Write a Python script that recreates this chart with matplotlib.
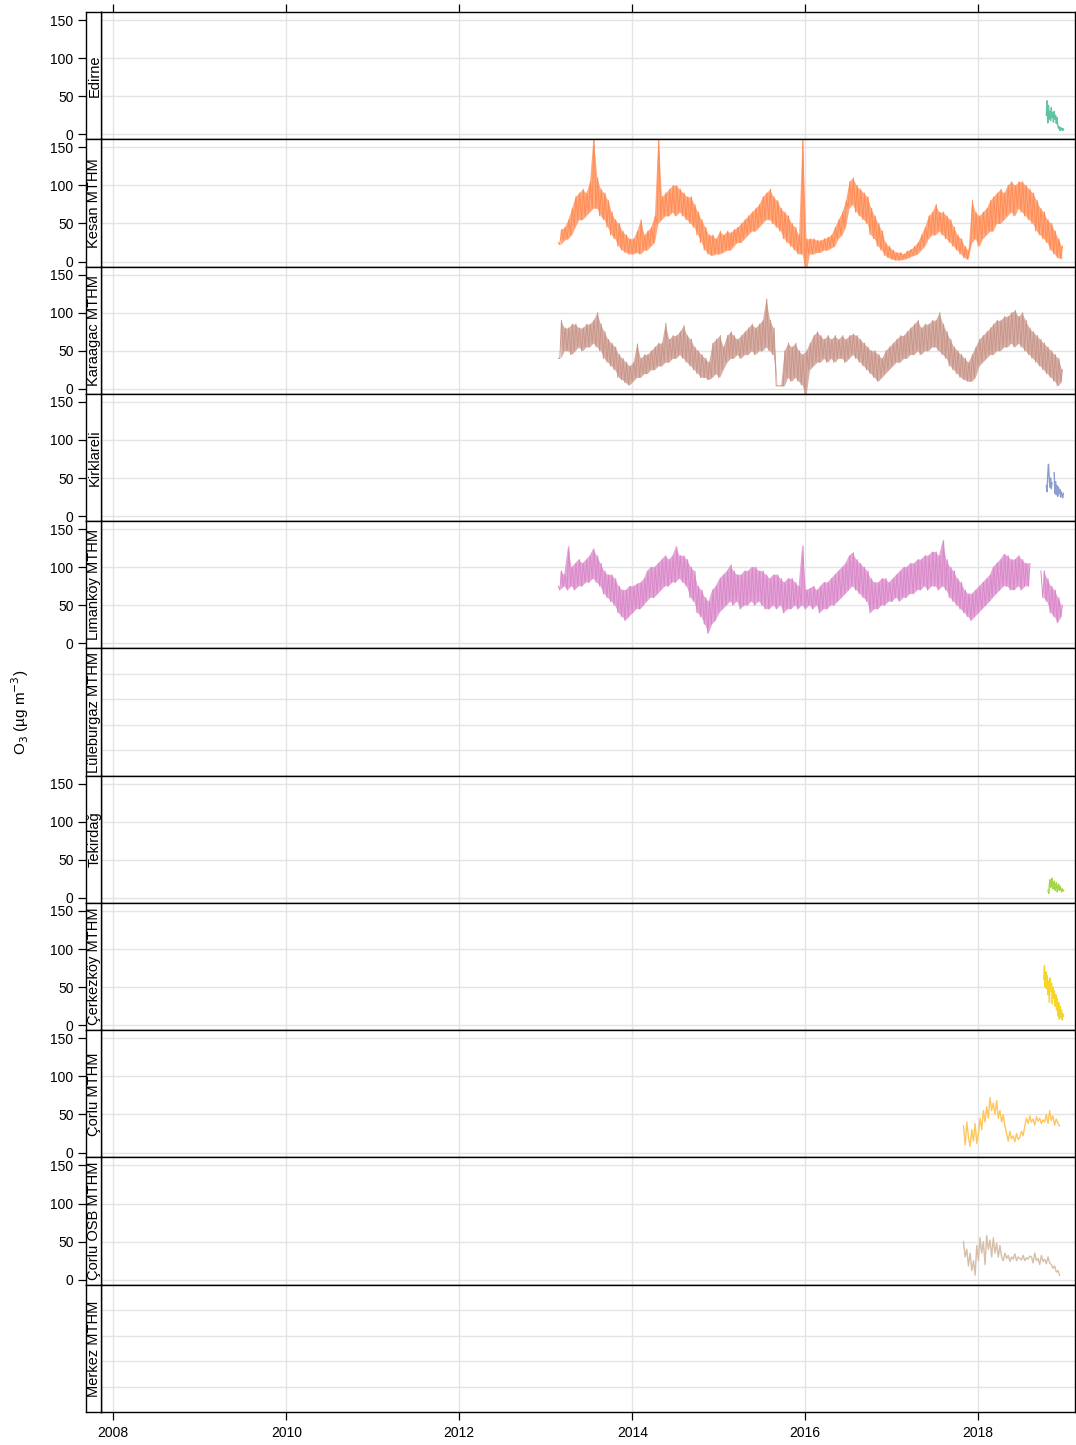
import numpy as np
import pandas as pd
import matplotlib
matplotlib.use("Agg")
import matplotlib.pyplot as plt
from datetime import datetime

plt.rcParams['font.family'] = ['Liberation Sans', 'DejaVu Sans']
nan = np.nan

# ---------------- data ----------------
sites = ["Edirne", "Kesan MTHM", "Karaagac MTHM", "Kirklareli", "Limanköy MTHM",
         "Lüleburgaz MTHM", "Tekirdağ", "Çerkezköy MTHM", "Çorlu MTHM",
         "Çorlu OSB MTHM", "Merkez MTHM"]
site_colors = ["#5FC4A0", "#FF8C55", "#C9968A", "#8C9DD0", "#DA88CA",
               "#B3B3B3", "#A2D846", "#F5D628", "#FFC65C", "#D5BFA8", "#B3B3B3"]

# long records: per month four readings (low, high, low, high) near days 1, 8, 16, 23
monthly_start = "2013-02-01"
kesan = [nan, nan, nan, 25,
    22, 42, 28, 45,  30, 55, 35, 70,  45, 85, 55, 90,  55, 95, 60, 90,  65, 105, 70, 165,
    70, 110, 60, 95,  55, 90, 45, 80,  35, 65, 30, 55,  20, 50, 15, 40,  12, 35, 10, 30,
    10, 30, 12, 40,  10, 55, 15, 35,  15, 40, 20, 45,  25, 60, 50, 165,  55, 85, 60, 90,
    60, 95, 65, 100,  60, 100, 65, 95,  60, 90, 55, 85,  50, 85, 45, 75,  35, 65, 25, 55,
    15, 45, 10, 35,  8, 35, 10, 30,
    10, 40, 12, 35,  15, 40, 15, 38,  20, 42, 25, 45,  25, 50, 30, 55,  35, 60, 40, 65,
    40, 70, 45, 75,  50, 85, 55, 90,  55, 95, 50, 85,  45, 80, 40, 70,  30, 65, 25, 60,
    20, 50, 15, 45,  10, 35, 10, 165,
    -15, 30, 10, 30,  10, 30, 12, 28,  12, 28, 15, 30,  15, 32, 18, 35,  20, 45, 30, 55,
    35, 65, 45, 80,  70, 105, 75, 110,  65, 100, 60, 95,  55, 90, 50, 85,  35, 70, 30, 60,
    20, 50, 15, 40,  8, 25, 5, 20,
    3, 15, 2, 12,  2, 12, 3, 10,  4, 14, 6, 16,  8, 20, 10, 25,  15, 35, 20, 45,
    30, 60, 35, 65,  35, 75, 40, 65,  35, 65, 30, 60,  25, 55, 20, 45,  15, 35, 10, 30,
    5, 20, 3, 15,  25, 80, 30, 65,
    20, 60, 30, 65,  35, 70, 40, 80,  40, 85, 50, 90,  50, 95, 55, 90,  60, 100, 65, 105,
    60, 100, 70, 105,  65, 105, 60, 100,  55, 95, 50, 90,  40, 80, 35, 70,  30, 65, 25, 55,
    15, 50, 10, 40,  5, 30, 4, 20]
karaagac = [nan, nan, nan, 40,
    40, 90, 50, 80,  50, 80, 45, 85,  50, 85, 55, 80,  50, 80, 55, 85,  55, 85, 60, 90,
    55, 100, 50, 85,  40, 75, 35, 65,  30, 60, 25, 55,  15, 45, 12, 40,  8, 35, 5, 30,
    10, 35, 15, 59,  15, 40, 20, 45,  20, 45, 25, 50,  25, 55, 30, 60,  30, 60, 35, 86,
    35, 65, 40, 70,  40, 70, 45, 75,  40, 83, 35, 70,  30, 65, 25, 55,  20, 50, 15, 45,
    15, 40, 12, 35,  15, 60, 20, 65,
    15, 70, 25, 55,  35, 70, 40, 75,  40, 70, 45, 65,  40, 70, 45, 75,  45, 80, 50, 85,
    45, 80, 50, 85,  50, 90, 55, 118,  50, 90, 45, 80,  4, 4, 4, 4,  4, 50, 15, 60,
    10, 55, 15, 60,  10, 50, 5, 45,
    -10, 50, 25, 60,  30, 70, 35, 75,  35, 70, 40, 65,  35, 70, 40, 65,  35, 70, 40, 65,
    40, 70, 35, 65,  40, 70, 45, 72,  40, 70, 35, 65,  30, 60, 25, 55,  20, 50, 15, 50,
    10, 45, 15, 40,  20, 50, 25, 55,
    30, 60, 35, 65,  35, 70, 40, 70,  40, 75, 45, 80,  45, 85, 50, 90,  45, 80, 50, 85,
    50, 85, 55, 90,  55, 90, 50, 100,  45, 85, 40, 75,  30, 65, 25, 55,  20, 50, 15, 45,
    12, 40, 10, 35,  10, 45, 15, 55,
    30, 65, 35, 70,  40, 75, 45, 80,  45, 85, 50, 90,  50, 90, 55, 95,  55, 95, 60, 100,
    55, 103, 60, 95,  55, 100, 50, 90,  45, 80, 40, 75,  35, 70, 30, 65,  25, 60, 20, 55,
    15, 50, 10, 45,  4, 40, 10, 25]
limankoy = [nan, nan, nan, 75,
    70, 95, 75, 90,  70, 127, 75, 100,  70, 105, 75, 110,  75, 105, 80, 110,  80, 115, 85, 124,
    80, 115, 75, 105,  65, 95, 60, 90,  55, 90, 50, 85,  40, 75, 35, 70,  30, 70, 35, 75,
    40, 75, 45, 78,  45, 80, 50, 85,  55, 95, 60, 100,  60, 100, 65, 105,  70, 110, 75, 115,
    75, 110, 80, 115,  80, 127, 85, 115,  80, 115, 75, 110,  60, 100, 55, 95,  40, 75, 35, 70,
    25, 60, 13, 55,  25, 70, 30, 75,
    40, 85, 45, 90,  50, 95, 55, 103,  50, 95, 55, 90,  45, 90, 50, 95,  50, 95, 55, 100,
    50, 100, 55, 95,  50, 95, 45, 90,  45, 85, 50, 90,  45, 90, 50, 85,  40, 80, 45, 85,
    45, 85, 50, 80,  45, 75, 50, 128,
    45, 70, 50, 72,  45, 75, 50, 70,  40, 75, 45, 80,  45, 80, 50, 85,  50, 90, 55, 95,
    60, 100, 65, 105,  70, 115, 75, 119,  70, 110, 65, 105,  60, 100, 55, 95,  40, 85, 45, 80,
    45, 80, 50, 85,  50, 85, 55, 80,
    55, 85, 60, 90,  55, 95, 60, 100,  60, 100, 65, 105,  65, 105, 70, 110,  70, 110, 75, 115,
    70, 115, 75, 120,  75, 120, 70, 115,  75, 135, 70, 110,  60, 100, 55, 95,  50, 85, 45, 80,
    40, 70, 35, 65,  30, 65, 35, 70,
    40, 75, 45, 80,  50, 85, 55, 90,  60, 100, 65, 105,  70, 110, 75, 117,  75, 115, 70, 110,
    70, 110, 75, 115,  70, 110, 75, 105,  75, 105, nan, nan,  nan, nan, nan, 95,  60, 95, 55, 85,
    40, 75, 35, 70,  27, 60, 35, 50]

# short records: regular steps (days)
edirne_start, edirne_step = "2018-10-16", 3
edirne = [25, 44, 15, 38, 20, 30, 18, 35, 22, 28, 16, 30, 20, 25, 14, 22, 12, 8, 10, 5,
          9, 6, 8, 5, 7]
kirklareli_start, kirklareli_step = "2018-10-16", 3
kirklareli = [40, 32, 55, 68, 52, 38, 50, 36, 44, nan, nan, 57, 30, 45, 28, 40, 26,
              38, 30, 35, 25, 32, 28, 24, 30]
tekirdag_start, tekirdag_step = "2018-10-23", 3
tekirdag = [10, 6, 18, 24, 14, 20, 26, 12, 18, 22, 10, 16, 20, 8, 14, 18, 10, 15, 12, 8,
            12, 9, 10]
cerkezkoy_start, cerkezkoy_step = "2018-10-05", 3
cerkezkoy = [60, 78, 50, 70, 48, 65, 40, 58, 30, 62, 45, 55, 28, 50, 35, 45, 25, 40, 20,
             35, 12, 30, 8, 25, 10, 20, 7, 15, 12]
corlu_start, corlu_step = "2017-10-31", 7
corlu = [35, 10, 40, 20, 8, 30, 15, 38, 12,
         25, 45, 30, 55, 40,
         60, 45, 72, 55, 65, 50, 68, 45,
         55, 40, 50, 35,
         25, 15, 28, 18, 22, 14, 25, 17, 20, 28, 22,
         35, 45, 38, 48, 40, 44, 36, 47, 41, 45, 38, 43, 40,
         50, 38, 55, 42, 48, 36, 44, 38, 35]
corluosb_start, corluosb_step = "2017-10-31", 7
corluosb = [50, 30, 40, 18, 35, 12, 25, 6,
            45, 25, 55, 35, 50, 20, 58, 40, 52, 30, 55, 35, 48, 30, 45,
            30, 25, 35, 28, 32, 24, 30, 27, 34, 25, 30, 28, 26, 32, 25, 29, 27, 31,
            30, 22, 35, 25, 28, 20, 32, 24, 27, 21, 30, 22,
            20, 15, 18, 10, 12, 6]

year_ticks = [2008, 2010, 2012, 2014, 2016, 2018]
y_ticks = [0, 50, 100, 150]
y_label = "O$_3$ (µg m$^{-3}$)"


def monthly_dates(start, n):
    months = pd.date_range(start, periods=int(np.ceil(n / 4)), freq="MS")
    d = [m + pd.Timedelta(days=k) for m in months for k in (0, 7, 15, 22)]
    return pd.DatetimeIndex(d[:n])


def step_dates(start, step, n):
    return pd.date_range(start, periods=n, freq=f"{step}D")


series = {
    "Edirne": (step_dates(edirne_start, edirne_step, len(edirne)), edirne),
    "Kesan MTHM": (monthly_dates(monthly_start, len(kesan)), kesan),
    "Karaagac MTHM": (monthly_dates(monthly_start, len(karaagac)), karaagac),
    "Kirklareli": (step_dates(kirklareli_start, kirklareli_step, len(kirklareli)), kirklareli),
    "Limanköy MTHM": (monthly_dates(monthly_start, len(limankoy)), limankoy),
    "Tekirdağ": (step_dates(tekirdag_start, tekirdag_step, len(tekirdag)), tekirdag),
    "Çerkezköy MTHM": (step_dates(cerkezkoy_start, cerkezkoy_step, len(cerkezkoy)), cerkezkoy),
    "Çorlu MTHM": (step_dates(corlu_start, corlu_step, len(corlu)), corlu),
    "Çorlu OSB MTHM": (step_dates(corluosb_start, corluosb_step, len(corluosb)), corluosb),
}
banded = {"Kesan MTHM", "Karaagac MTHM", "Limanköy MTHM"}

# ---------------- layout ----------------
W, H = 1076, 1445
fig = plt.figure(figsize=(W / 100, H / 100), dpi=100)
top_px, bot_px = 12, 1412
left_strip, left_panel, right_px = 86, 101, 1075
n = len(sites)
ph = (bot_px - top_px) / n

xmin, xmax = datetime(2007, 11, 10), datetime(2019, 2, 14)
xt = [datetime(y, 1, 1) for y in year_ticks]
grid_col = "#E4E4E4"
fs_tick = 10
fs_strip = 10.5

for i, site in enumerate(sites):
    y0 = 1 - (top_px + (i + 1) * ph) / H
    ax = fig.add_axes([left_panel / W, y0, (right_px - left_panel) / W, ph / H])
    sx = fig.add_axes([left_strip / W, y0, (left_panel - left_strip) / W, ph / H])
    has = site in series
    if has:
        d, v = series[site]
        v = np.array(v, dtype=float)
        if site in banded:
            # readings alternate low / high: shade the band between them
            lo, hi = v[0::2], v[1::2]
            dm = d[0::2] + (d[1::2] - d[0::2]) / 2
            ax.fill_between(dm, lo, hi, color=site_colors[i], alpha=0.75, lw=0)
            ax.plot(d, v, color=site_colors[i], lw=0.7)
        else:
            ax.plot(d, v, color=site_colors[i], lw=1.0)
        ylim = (-6.5, 160.5)
        yt = y_ticks
    else:
        ylim = (0, 1)
        yt = [0.2, 0.4, 0.6, 0.8]
    ax.set_xlim(xmin, xmax)
    ax.set_ylim(*ylim)
    ax.set_xticks(xt)
    ax.set_yticks(yt)
    ax.grid(True, color=grid_col, lw=1.0)
    ax.set_axisbelow(True)
    ax.tick_params(axis="y", length=0, labelleft=False)
    if i == 0:
        ax.xaxis.set_ticks_position("top")
        ax.tick_params(axis="x", direction="out", length=6, width=0.9,
                       labeltop=False, labelbottom=False)
    elif i == n - 1:
        ax.tick_params(axis="x", direction="out", length=6, width=0.9,
                       labelsize=fs_tick, pad=4)
        ax.set_xticklabels([str(y) for y in year_ticks])
    else:
        ax.tick_params(axis="x", length=0, labelbottom=False)
    for s in ax.spines.values():
        s.set_linewidth(1.0)
        s.set_color("black")

    # strip on the left
    sx.set_xlim(0, 1)
    sx.set_ylim(*ylim)
    sx.set_xticks([])
    if has:
        sx.set_yticks(yt)
        sx.set_yticklabels([str(t) for t in yt])
        sx.tick_params(axis="y", direction="out", length=6, width=0.9,
                       labelsize=fs_tick, pad=3)
    else:
        sx.set_yticks([])
    for s in sx.spines.values():
        s.set_linewidth(1.0)
        s.set_color("black")
    sx.text(0.55, 0.5, site, rotation=90, ha="center", va="center",
            fontsize=fs_strip, transform=sx.transAxes)

fig.text(20 / W, 1 - 712 / H, y_label, rotation=90, ha="center", va="center",
         fontsize=11)

fig.savefig("out.png", dpi=100)
